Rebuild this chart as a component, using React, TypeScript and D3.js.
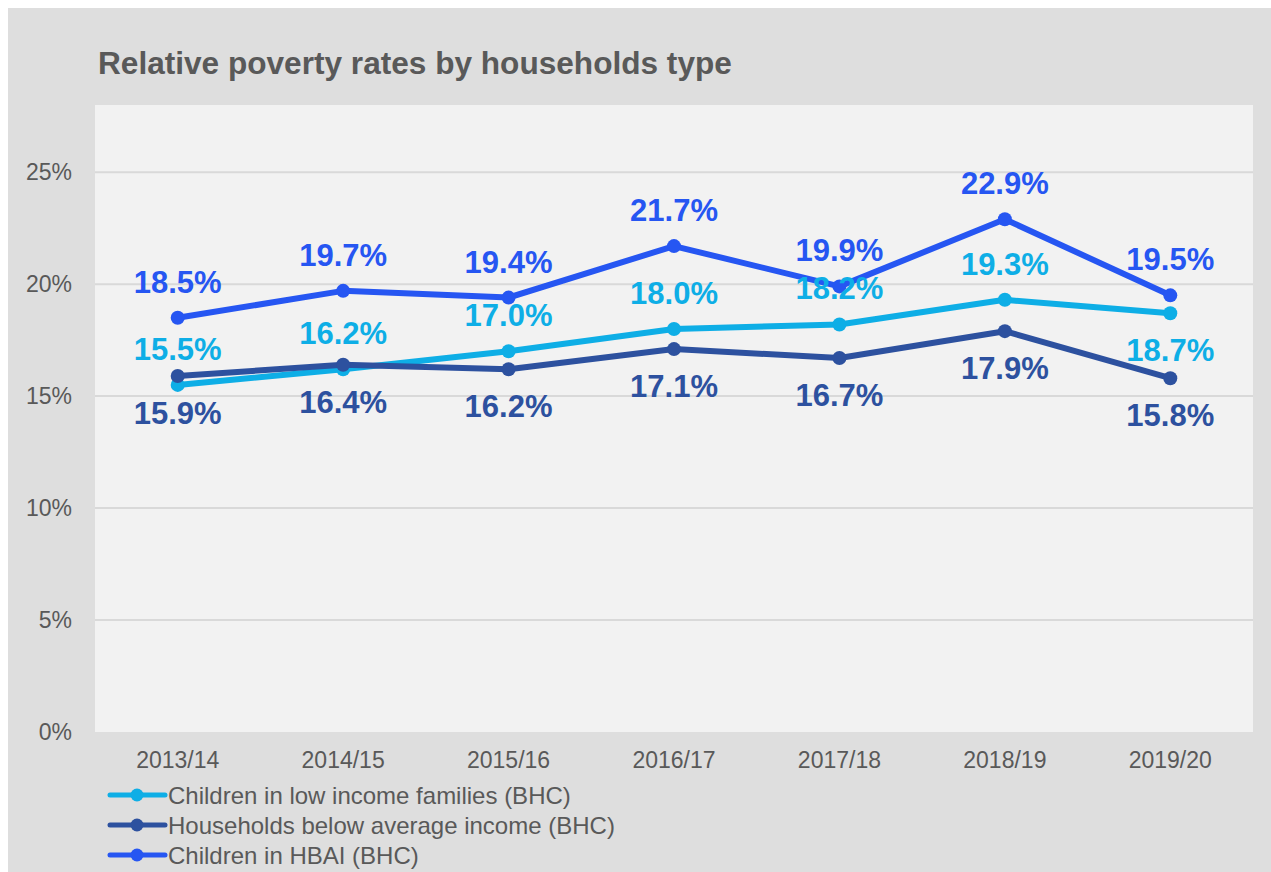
import React from "react";
import * as d3 from "d3";

const years = ["2013/14", "2014/15", "2015/16", "2016/17", "2017/18", "2018/19", "2019/20"];
const lowIncome = [15.5, 16.2, 17.0, 18.0, 18.2, 19.3, 18.7];
const belowAverage = [15.9, 16.4, 16.2, 17.1, 16.7, 17.9, 15.8];
const childrenHbai = [18.5, 19.7, 19.4, 21.7, 19.9, 22.9, 19.5];
const yTicks = [0, 5, 10, 15, 20, 25];

const seriesNames = [
  "Children in low income families (BHC)",
  "Households below average income (BHC)",
  "Children in HBAI (BHC)",
];

// label placement per series: true = above the point
const lowIncomeAbove = [true, true, true, true, true, true, false];
const belowAverageAbove = [false, false, false, false, false, false, false];
const childrenHbaiAbove = [true, true, true, true, true, true, true];

const FONT = "'Liberation Sans', Arial, sans-serif";
const TEXT = "#595959";

const plot = { left: 95, right: 1253, top: 105, bottom: 732 };

export default function App() {
  const x = d3
    .scalePoint<string>()
    .domain(years)
    .range([plot.left, plot.right])
    .padding(0.5);

  const y = d3.scaleLinear().domain([0, 28]).range([plot.bottom, plot.top]);

  const line = d3
    .line<number>()
    .x((_, i) => x(years[i]) as number)
    .y((d) => y(d));

  const series = [
    { name: seriesNames[0], values: lowIncome, above: lowIncomeAbove, color: "#0eaee6" },
    { name: seriesNames[1], values: belowAverage, above: belowAverageAbove, color: "#2d519f" },
    { name: seriesNames[2], values: childrenHbai, above: childrenHbaiAbove, color: "#2656f2" },
  ];

  return (
    <svg
      width={1271}
      height={872}
      style={{ position: "absolute", left: 0, top: 0, fontFamily: FONT }}
    >
      <rect x={8} y={8} width={1263} height={864} fill="#dedede" />
      <text x={98} y={74} fontSize={31.6} fontWeight="bold" fill={TEXT}>
        Relative poverty rates by households type
      </text>

      {/* plot area */}
      <rect
        x={plot.left}
        y={plot.top}
        width={plot.right - plot.left}
        height={plot.bottom - plot.top}
        fill="#f2f2f2"
      />

      {/* grid + y axis labels */}
      {yTicks.map((t) => (
        <g key={t}>
          {t > 0 && (
            <line
              x1={plot.left}
              x2={plot.right}
              y1={y(t)}
              y2={y(t)}
              stroke="#d9d9d9"
              strokeWidth={2}
            />
          )}
          <text
            x={72}
            y={y(t) + 8}
            textAnchor="end"
            fontSize={23}
            fill={TEXT}
          >
            {t}%
          </text>
        </g>
      ))}

      {/* x axis labels */}
      {years.map((yr) => (
        <text key={yr} x={x(yr)} y={768} textAnchor="middle" fontSize={23} fill={TEXT}>
          {yr}
        </text>
      ))}

      {/* lines */}
      {series.map((s) => (
        <g key={s.name}>
          <path
            d={line(s.values) || ""}
            fill="none"
            stroke={s.color}
            strokeWidth={6}
            strokeLinejoin="round"
          />
          {s.values.map((v, i) => (
            <circle key={i} cx={x(years[i])} cy={y(v)} r={7} fill={s.color} />
          ))}
        </g>
      ))}

      {/* data labels */}
      {series.map((s) => (
        <g key={s.name + "-labels"}>
          {s.values.map((v, i) => (
            <text
              key={i}
              x={x(years[i])}
              y={y(v) + (s.above[i] ? -25 : 48)}
              textAnchor="middle"
              fontSize={31}
              fontWeight="bold"
              fill={s.color}
            >
              {v.toFixed(1)}%
            </text>
          ))}
        </g>
      ))}

      {/* legend */}
      {series.map((s, i) => {
        const cy = 795 + i * 30;
        return (
          <g key={s.name + "-legend"}>
            <line x1={110} x2={165} y1={cy} y2={cy} stroke={s.color} strokeWidth={5} strokeLinecap="round" />
            <circle cx={137} cy={cy} r={6.5} fill={s.color} />
            <text x={168} y={cy + 8.5} fontSize={24} fill={TEXT}>
              {s.name}
            </text>
          </g>
        );
      })}
    </svg>
  );
}
